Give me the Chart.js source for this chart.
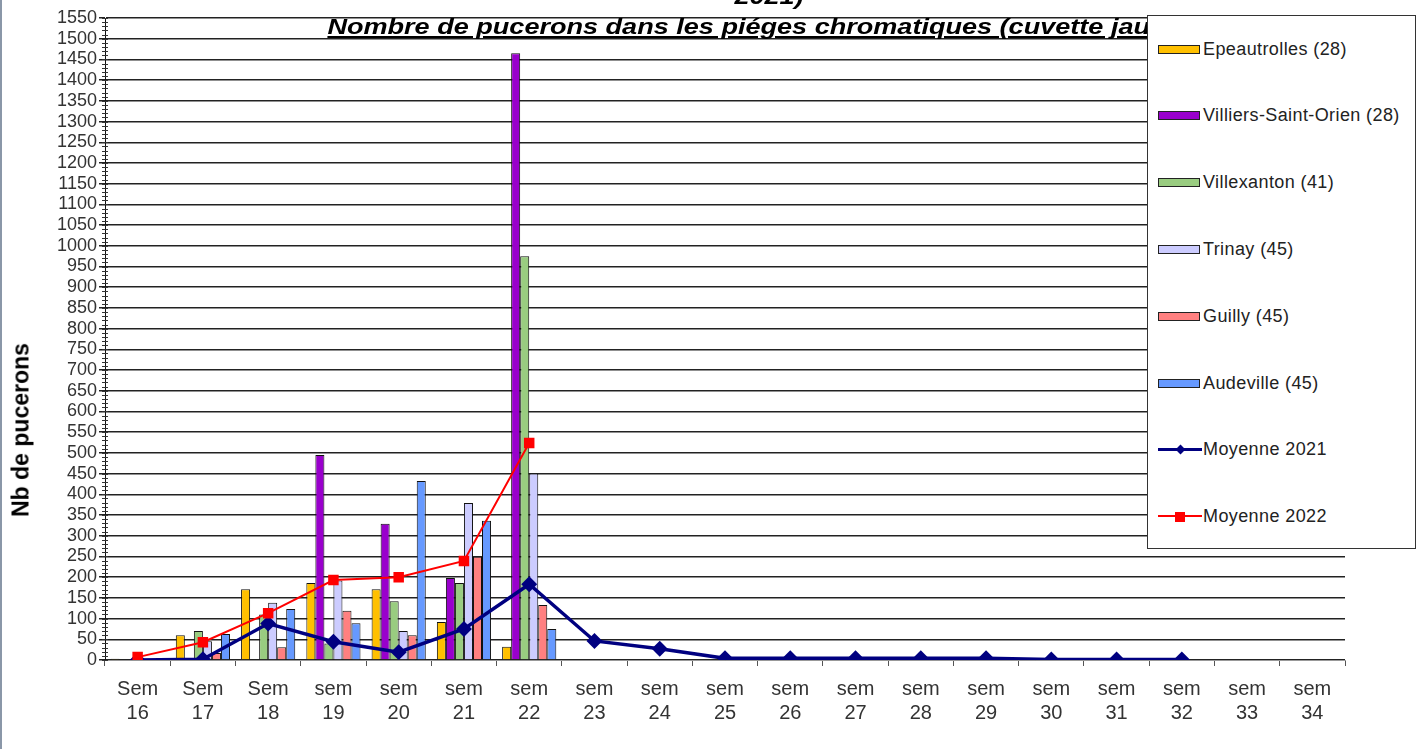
<!DOCTYPE html>
<html>
<head>
<meta charset="utf-8">
<script src="https://cdn.jsdelivr.net/npm/chart.js@4.4.1/dist/chart.umd.min.js"></script>
<style>
    body { margin: 0; background: #fff; font-family: 'Liberation Sans', Arial, sans-serif; }
    #wrap { position: relative; width: 1421px; height: 749px; overflow: hidden; border-left: 2px solid #8a97a8; box-sizing: border-box; }
    #chart { position: absolute; left: 0; top: 0; }
    .title { position: absolute; left: 757px; font-weight: bold; font-style: italic; color: #000; white-space: nowrap; font-size: 22px; transform: translateX(-50%) scaleX(1.23); }
    #title1 { top: -16px; left: 767px; }
    #title2 { top: 14px; text-decoration: underline; }
    #ytitle { position: absolute; left: 19px; top: 430px; font-size: 23px; font-weight: bold; color: #000; white-space: nowrap; transform: translate(-50%, -50%) rotate(-90deg); }
    #legend { position: absolute; left: 1145px; top: 15px; width: 269px; height: 534px; background: #fff; border: 1px solid #333; box-sizing: border-box; }
    .item { position: absolute; left: 10px; height: 20px; display: flex; align-items: center; font-size: 18px; letter-spacing: 0.4px; color: #222; }
    .swatch { width: 42px; height: 9px; box-sizing: border-box; border: 1px solid #222; margin-right: 3px; }
    .lineSw { position: relative; width: 44px; height: 9px; margin-right: 1px; }
    .lineSw .bar { position: absolute; left: 0; right: 0; top: 3px; }
    .lineSw .mk { position: absolute; left: 17px; }
</style>
</head>
<body>
<div id="wrap">
    <canvas id="chart" width="1421" height="749"></canvas>
    <div class="title" id="title1">2021)</div>
    <div class="title" id="title2">Nombre de pucerons dans les piéges chromatiques (cuvette jaune)</div>
    <div id="ytitle">Nb de pucerons</div>
    <div id="legend"></div>
</div>
<script>
// Weeks (tick labels)
const xLabels = [
    ['Sem', '16'], ['Sem', '17'], ['Sem', '18'], ['sem', '19'], ['sem', '20'],
    ['sem', '21'], ['sem', '22'], ['sem', '23'], ['sem', '24'], ['sem', '25'],
    ['sem', '26'], ['sem', '27'], ['sem', '28'], ['sem', '29'], ['sem', '30'],
    ['sem', '31'], ['sem', '32'], ['sem', '33'], ['sem', '34']
];

// Aphid counts per trap (2022)
const epeautrolles = [3, 60, 171, 186, 171, 92, 32];
const villiers = [0, 3, 0, 495, 329, 198, 1465];
const villexanton = [0, 70, 110, 40, 142, 186, 975];
const trinay = [0, 45, 138, 192, 70, 379, 450];
const guilly = [0, 17, 31, 119, 60, 249, 133];
const audeville = [0, 63, 123, 89, 432, 336, 75];

// Averages
const moyenne2021 = [0, 2, 88, 44, 19, 75, 183, 46, 27, 4, 4, 4, 4, 4, 1, 1, 1, null, null];
const moyenne2022 = [7, 43, 113, 193, 200, 239, 524];

const barSeries = [
    { label: 'Epeautrolles (28)', data: epeautrolles, color: '#FFC000' },
    { label: 'Villiers-Saint-Orien (28)', data: villiers, color: '#9900CC' },
    { label: 'Villexanton (41)', data: villexanton, color: '#99CC80' },
    { label: 'Trinay (45)', data: trinay, color: '#CCCCFF' },
    { label: 'Guilly (45)', data: guilly, color: '#FF8080' },
    { label: 'Audeville (45)', data: audeville, color: '#6699FF' }
];

const datasets = barSeries.map(s => ({
    type: 'bar',
    label: s.label,
    data: s.data,
    backgroundColor: s.color,
    borderColor: '#111',
    borderWidth: 1,
    barPercentage: 1,
    categoryPercentage: 0.83,
    order: 2
}));

datasets.push({
    type: 'line',
    label: 'Moyenne 2021',
    data: moyenne2021,
    borderColor: '#000080',
    backgroundColor: '#000080',
    borderWidth: 3.5,
    pointStyle: 'rectRot',
    pointRadius: 5.5,
    tension: 0,
    order: 1
});
datasets.push({
    type: 'line',
    label: 'Moyenne 2022',
    data: moyenne2022,
    borderColor: '#FF0000',
    backgroundColor: '#FF0000',
    borderWidth: 2,
    pointStyle: 'rect',
    pointRadius: 6,
    tension: 0,
    order: 0
});

// small ticks every 10 on the y axis
const minorTicks = {
    id: 'minorTicks',
    afterDraw(chart) {
        const y = chart.scales.y;
        const ctx = chart.ctx;
        ctx.save();
        ctx.strokeStyle = '#333';
        ctx.lineWidth = 1;
        for (let v = 0; v <= 1550; v += 10) {
            const py = Math.round(y.getPixelForValue(v)) + 0.5;
            ctx.beginPath();
            ctx.moveTo(y.right - 3, py);
            ctx.lineTo(y.right + 3, py);
            ctx.stroke();
        }
        ctx.restore();
    }
};

const chart = new Chart(document.getElementById('chart'), {
    data: { labels: xLabels, datasets },
    options: {
        responsive: false,
        animation: false,
        layout: { padding: { left: 6, right: 78, top: 18, bottom: 10 } },
        plugins: {
            legend: { display: false },
            tooltip: { enabled: false }
        },
        scales: {
            x: {
                afterFit(scale) { scale.height = 79; },
                grid: { display: true, drawOnChartArea: false, offset: true, tickLength: 6, color: '#555' },
                border: { color: '#999', width: 1 },
                ticks: { color: '#333', font: { family: 'Liberation Sans', size: 20 }, padding: 11, maxRotation: 0, autoSkip: false }
            },
            y: {
                min: 0,
                max: 1550,
                afterFit(scale) { scale.width = 97; },
                grid: { color: '#222', lineWidth: 1.5, tickLength: 6 },
                border: { color: '#111', width: 1 },
                ticks: {
                    stepSize: 50, autoSkip: false, color: '#333',
                    font: { family: 'Liberation Sans', size: 18, lineHeight: 1 }, padding: 2,
                    callback: v => String(v)
                }
            }
        }
    },
    plugins: [minorTicks]
});

// HTML legend
const legend = document.getElementById('legend');
datasets.forEach((ds, i) => {
    const item = document.createElement('div');
    item.className = 'item';
    item.style.top = (23 + i * 66.8) + 'px';
    let sw;
    if (ds.type === 'bar') {
        sw = `<div class="swatch" style="background:${ds.backgroundColor}"></div>`;
    } else {
        const sq = ds.pointStyle === 'rect';
        const mk = sq
            ? `<div class="mk" style="top:0;width:10px;height:10px;left:17px;background:${ds.borderColor}"></div>`
            : `<div class="mk" style="top:1px;width:7px;height:7px;left:19px;transform:rotate(45deg);background:${ds.borderColor}"></div>`;
        sw = `<div class="lineSw"><div class="bar" style="border-top:${sq ? 2 : 3}px solid ${ds.borderColor}"></div>${mk}</div>`;
    }
    item.innerHTML = sw + `<span>${ds.label}</span>`;
    legend.appendChild(item);
});
</script>
</body>
</html>
